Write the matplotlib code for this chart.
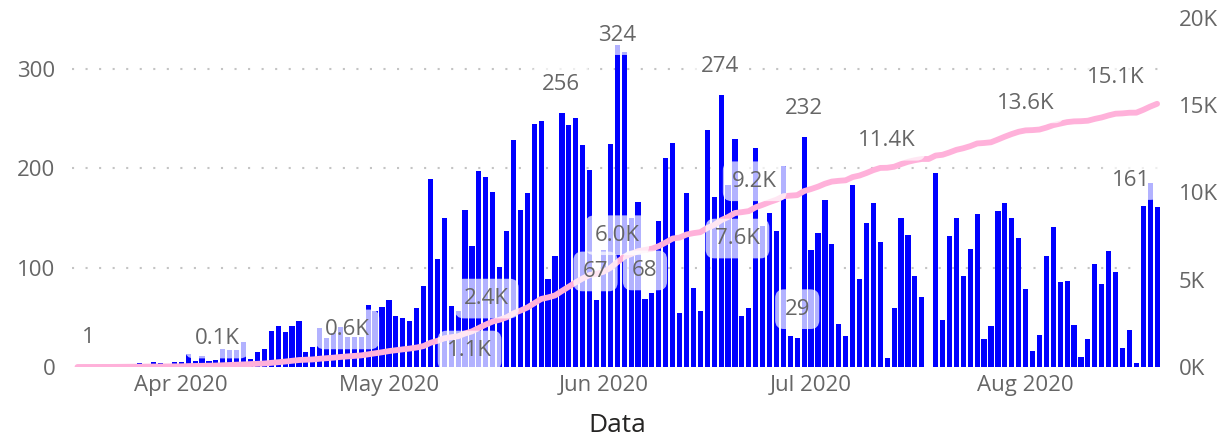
import numpy as np
import pandas as pd
import matplotlib
matplotlib.use("Agg")
import matplotlib.pyplot as plt
import matplotlib.dates as mdates
from matplotlib.ticker import FuncFormatter

plt.rcParams['font.family'] = ['Open Sans', 'DejaVu Sans']

dates = pd.date_range("2020-03-17", "2020-08-20", freq="D")

# daily new cases (bars), one value per day
daily = [
    1, 0, 1, 0, 2, 1, 3, 2, 3, 4, 3, 5,                         # Mar 17 - Mar 28
    4, 0, 5, 5, 13, 6, 11, 6, 7, 18, 17, 17, 25, 8, 15, 18,     # Mar 29 - Apr 13
    36, 41, 35, 41, 46, 15, 20, 39, 29, 34, 40, 30, 30, 30,     # Apr 14 - Apr 27
    62, 56, 60, 67,                                             # Apr 28 - May 1
    51, 49, 46, 59, 82, 189, 109, 150, 61, 56, 158, 122, 197,   # May 2 - May 14
    191, 176, 101, 137, 228, 158, 175, 245, 248,                # May 15 - May 23
    89, 112, 256, 244, 251, 223, 198, 67, 118, 224, 324, 317,   # May 24 - Jun 4
    150, 166, 68, 74, 147, 210, 225, 54, 175, 80, 56,           # Jun 5 - Jun 15
    239, 171, 274, 183, 229, 51, 59, 220, 142, 155, 137, 202,   # Jun 16 - Jun 27
    31, 29, 232, 118, 135, 168, 124, 43, 31, 183,               # Jun 28 - Jul 7
    89, 145, 165, 126, 9, 59, 150, 133, 92, 70, 0, 195,         # Jul 8 - Jul 19
    47, 132, 150, 92, 119, 154, 28, 41, 157, 165, 150,          # Jul 20 - Jul 30
    130, 79, 16, 32, 112, 141, 86, 87, 42, 10, 28, 104,         # Jul 31 - Aug 11
    84, 117, 96, 19, 37, 4, 162, 185, 161,                      # Aug 12 - Aug 20
]

# running total shown by the pink line
cumulative = np.cumsum(daily)

# data labels as they appear on the chart
line_label_dates = ["2020-03-17", "2020-04-06", "2020-04-25", "2020-05-05",
                    "2020-05-15", "2020-06-03", "2020-06-13", "2020-06-23",
                    "2020-07-12", "2020-08-01", "2020-08-20"]
line_label_texts = ["1", "0.1K", "0.6K", "1.1K", "2.4K", "6.0K", "7.6K",
                    "9.2K", "11.4K", "13.6K", "15.1K"]
bar_label_dates = ["2020-05-26", "2020-05-31", "2020-06-03", "2020-06-07",
                   "2020-06-18", "2020-06-29", "2020-06-30", "2020-08-20"]
bar_label_texts = ["256", "67", "324", "68", "274", "29", "232", "161"]

left_ticks = [0, 100, 200, 300]
right_ticks = [0, 5000, 10000, 15000, 20000]

# label offsets in pixels (Power BI shifts some of them)
line_label_offsets = [(11, 29), (1, 27), (0, 27), (53, -3), (1, 26), (0, 27),
                      (51, -4), (-1, 26), (0, 27), (0, 27), (-41, 26)]
bar_label_offsets = [(-1, 28), (-1, 29), (0, 10), (0, 29), (-1, 28), (0, 29),
                     (0, 28), (-26, 27)]

BLUE = '#0000FF'
PINK = '#FFB1DA'
GREY = '#666666'
FS = 16

W, H = 1222, 440
fig = plt.figure(figsize=(W / 100, H / 100), dpi=100)
ax = fig.add_axes([72 / W, (H - 367) / H, (1162 - 72) / W, (367 - 18) / H])
ax2 = ax.twinx()

ax.bar(dates, daily, width=0.75, color=BLUE, linewidth=0, zorder=2)
ax2.plot(dates, cumulative, color=PINK, lw=4.2, solid_capstyle='round',
         solid_joinstyle='round')

ax.set_xlim(dates[0] - pd.Timedelta(hours=19), dates[-1] + pd.Timedelta(hours=17))
ax.set_ylim(0, 351.3)
ax2.set_ylim(0, 20000)
ax.set_yticks(left_ticks)
ax2.set_yticks(right_ticks)
ax2.yaxis.set_major_formatter(FuncFormatter(lambda v, _: f"{v / 1000:.0f}K"))

ax.xaxis.set_major_locator(mdates.MonthLocator())
ax.xaxis.set_major_formatter(mdates.DateFormatter('%b %Y'))

for a in (ax, ax2):
    for s in a.spines.values():
        s.set_visible(False)
ax.tick_params(axis='x', length=0, pad=6, labelsize=FS, labelcolor=GREY)
ax.tick_params(axis='y', length=0, pad=12, labelsize=FS, labelcolor=GREY)
ax2.tick_params(axis='y', length=0, pad=12, labelsize=FS, labelcolor=GREY)

ax.set_axisbelow(True)
ax.yaxis.grid(True, linestyle=(0, (1, 5.5)), color='#c4c4c4', linewidth=1.5)
ax.get_ygridlines()[0].set_visible(False)

ax.set_xlabel('Data', fontsize=19, color='#252423', labelpad=12)

box = dict(boxstyle='round,pad=0.42,rounding_size=0.4', fc='white', ec='none', alpha=0.7)

xnum = mdates.date2num(dates)

for d, txt, off in zip(line_label_dates, line_label_texts, line_label_offsets):
    i = dates.get_loc(pd.Timestamp(d))
    ax2.annotate(txt, xy=(xnum[i], cumulative[i]), xytext=off,
                 textcoords='offset pixels', ha='center', va='center',
                 fontsize=FS, color=GREY, bbox=box, zorder=5)

for d, txt, off in zip(bar_label_dates, bar_label_texts, bar_label_offsets):
    i = dates.get_loc(pd.Timestamp(d))
    ax2.annotate(txt, xy=(xnum[i], daily[i]), xycoords=ax.transData,
                 xytext=off, textcoords='offset pixels', ha='center',
                 va='center', fontsize=FS, color=GREY, bbox=box, zorder=5)

fig.savefig('out.png', dpi=100)
